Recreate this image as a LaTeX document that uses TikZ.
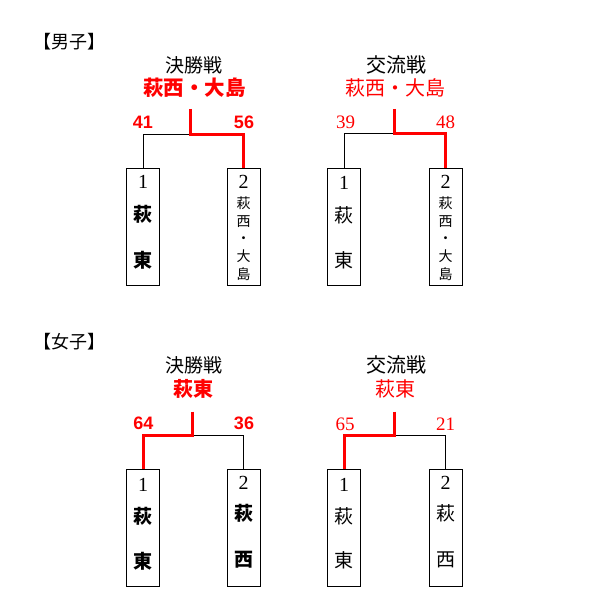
\documentclass[tikz,border=0pt]{standalone}
\usepackage{fontspec}
\setmainfont{Liberation Serif}
\newfontfamily\arialfont{Liberation Sans}
\newfontfamily\jpfont{Noto Sans CJK JP}

\begin{document}
\begin{tikzpicture}[x=1pt, y=-1pt,
    teambox/.style={draw, line width=1pt, minimum width=33pt, minimum height=117pt, inner sep=0pt},
    loser/.style={draw=black, line width=1pt},
    winner/.style={draw=red, line width=3pt},
    seed/.style={inner sep=0pt, font=\fontsize{20}{20}\selectfont},
    bigname/.style={inner sep=0pt, font=\jpfont\bfseries\fontsize{19}{19}\selectfont},
    plainname/.style={inner sep=0pt, font=\jpfont\fontsize{19}{19}\selectfont},
    stack/.style={inner sep=0pt, align=center, font=\jpfont\fontsize{14}{17.7}\selectfont},
    gscore/.style={inner sep=0pt, text=red, font=\arialfont\bfseries\fontsize{18}{18}\selectfont},
    mscore/.style={inner sep=0pt, text=red, font=\fontsize{19}{19}\selectfont},
    heading/.style={inner sep=0pt, font=\jpfont\fontsize{18}{18}\selectfont}]
  \useasboundingbox (0,0) rectangle (599,615);

  % ---- boys ----
  \node[heading] (boys) at (69.5,42) {【男子】};

  % final (gothic)
  \node[inner sep=0pt, font=\jpfont\fontsize{19}{19}\selectfont] (mf-title) at (194,65) {決勝戦};
  \node[inner sep=0pt, text=red, font=\jpfont\bfseries\fontsize{20.5}{20.5}\selectfont] (mf-win) at (194.5,88) {萩西・大島};
  \node[gscore] (mf-s1) at (143,122) {41};
  \node[gscore] (mf-s2) at (244,122) {56};
  \node[teambox] (mf1) at (143,226.7) {};
  \node[teambox] (mf2) at (243.7,226.7) {};
  \node[seed] (mf1-n) at (143,182) {1};
  \node[bigname] (mf1-a) at (143,214.5) {萩};
  \node[bigname] (mf1-b) at (143,260.5) {東};
  \node[seed] (mf2-n) at (243.7,182) {2};
  \node[stack] (mf2-a) at (243.7,238.5) {萩\\西\\・\\大\\島};
  \coordinate (mf-top) at (190.7,109);
  \coordinate (mf-join) at (190.7,134);
  \draw[loser] (mf1.north) |- (mf-join);
  \draw[winner] (mf-top) -- (mf-join) -| (mf2.north);

  % exchange match (mincho look)
  \node[inner sep=0pt, font=\jpfont\fontsize{20}{20}\selectfont] (mx-title) at (396,65) {交流戦};
  \node[inner sep=0pt, text=red, font=\jpfont\fontsize{20}{20}\selectfont] (mx-win) at (395,88) {萩西・大島};
  \node[mscore] (mx-s1) at (345.5,122) {39};
  \node[mscore] (mx-s2) at (445.5,122) {48};
  \node[teambox] (mx1) at (344.2,226.7) {};
  \node[teambox] (mx2) at (445.5,226.7) {};
  \node[seed] (mx1-n) at (344.2,182.5) {1};
  \node[plainname] (mx1-a) at (344.2,215) {萩};
  \node[plainname] (mx1-b) at (344.2,260) {東};
  \node[seed] (mx2-n) at (445.5,181.7) {2};
  \node[stack] (mx2-a) at (445.5,238.5) {萩\\西\\・\\大\\島};
  \coordinate (mx-top) at (394,109);
  \coordinate (mx-join) at (394,133);
  \draw[loser] (mx1.north) |- (mx-join);
  \draw[winner] (mx-top) -- (mx-join) -| (mx2.north);

  % ---- girls ----
  \node[heading] (girls) at (69.5,342) {【女子】};

  % final
  \node[inner sep=0pt, font=\jpfont\fontsize{19}{19}\selectfont] (wf-title) at (194,365) {決勝戦};
  \node[inner sep=0pt, text=red, font=\jpfont\bfseries\fontsize{20}{20}\selectfont] (wf-win) at (193.5,389) {萩東};
  \node[gscore] (wf-s1) at (143.5,423) {64};
  \node[gscore] (wf-s2) at (244,423) {36};
  \node[teambox] (wf1) at (143,528.3) {};
  \node[teambox] (wf2) at (243.7,528.3) {};
  \node[seed] (wf1-n) at (143,484.5) {1};
  \node[bigname] (wf1-a) at (143,516) {萩};
  \node[bigname] (wf1-b) at (143,561.7) {東};
  \node[seed] (wf2-n) at (243.7,483) {2};
  \node[bigname] (wf2-a) at (243.7,513) {萩};
  \node[bigname] (wf2-b) at (243.7,560) {西};
  \coordinate (wf-top) at (192.7,411.7);
  \coordinate (wf-join) at (192.7,435.7);
  \draw[loser] (wf2.north) |- (wf-join);
  \draw[winner] (wf-top) -- (wf-join) -| (wf1.north);

  % exchange match
  \node[inner sep=0pt, font=\jpfont\fontsize{20}{20}\selectfont] (wx-title) at (396,365) {交流戦};
  \node[inner sep=0pt, text=red, font=\jpfont\fontsize{20}{20}\selectfont] (wx-win) at (395.7,389) {萩東};
  \node[mscore] (wx-s1) at (345,424) {65};
  \node[mscore] (wx-s2) at (445.5,424) {21};
  \node[teambox] (wx1) at (344.2,528.3) {};
  \node[teambox] (wx2) at (445.5,528.3) {};
  \node[seed] (wx1-n) at (344.2,484.5) {1};
  \node[plainname] (wx1-a) at (344.2,516.7) {萩};
  \node[plainname] (wx1-b) at (344.2,560) {東};
  \node[seed] (wx2-n) at (445.5,483.3) {2};
  \node[plainname] (wx2-a) at (445.5,513.3) {萩};
  \node[plainname] (wx2-b) at (445.5,560) {西};
  \coordinate (wx-top) at (394,411.7);
  \coordinate (wx-join) at (394,435.7);
  \draw[loser] (wx2.north) |- (wx-join);
  \draw[winner] (wx-top) -- (wx-join) -| (wx1.north);
\end{tikzpicture}
\end{document}
